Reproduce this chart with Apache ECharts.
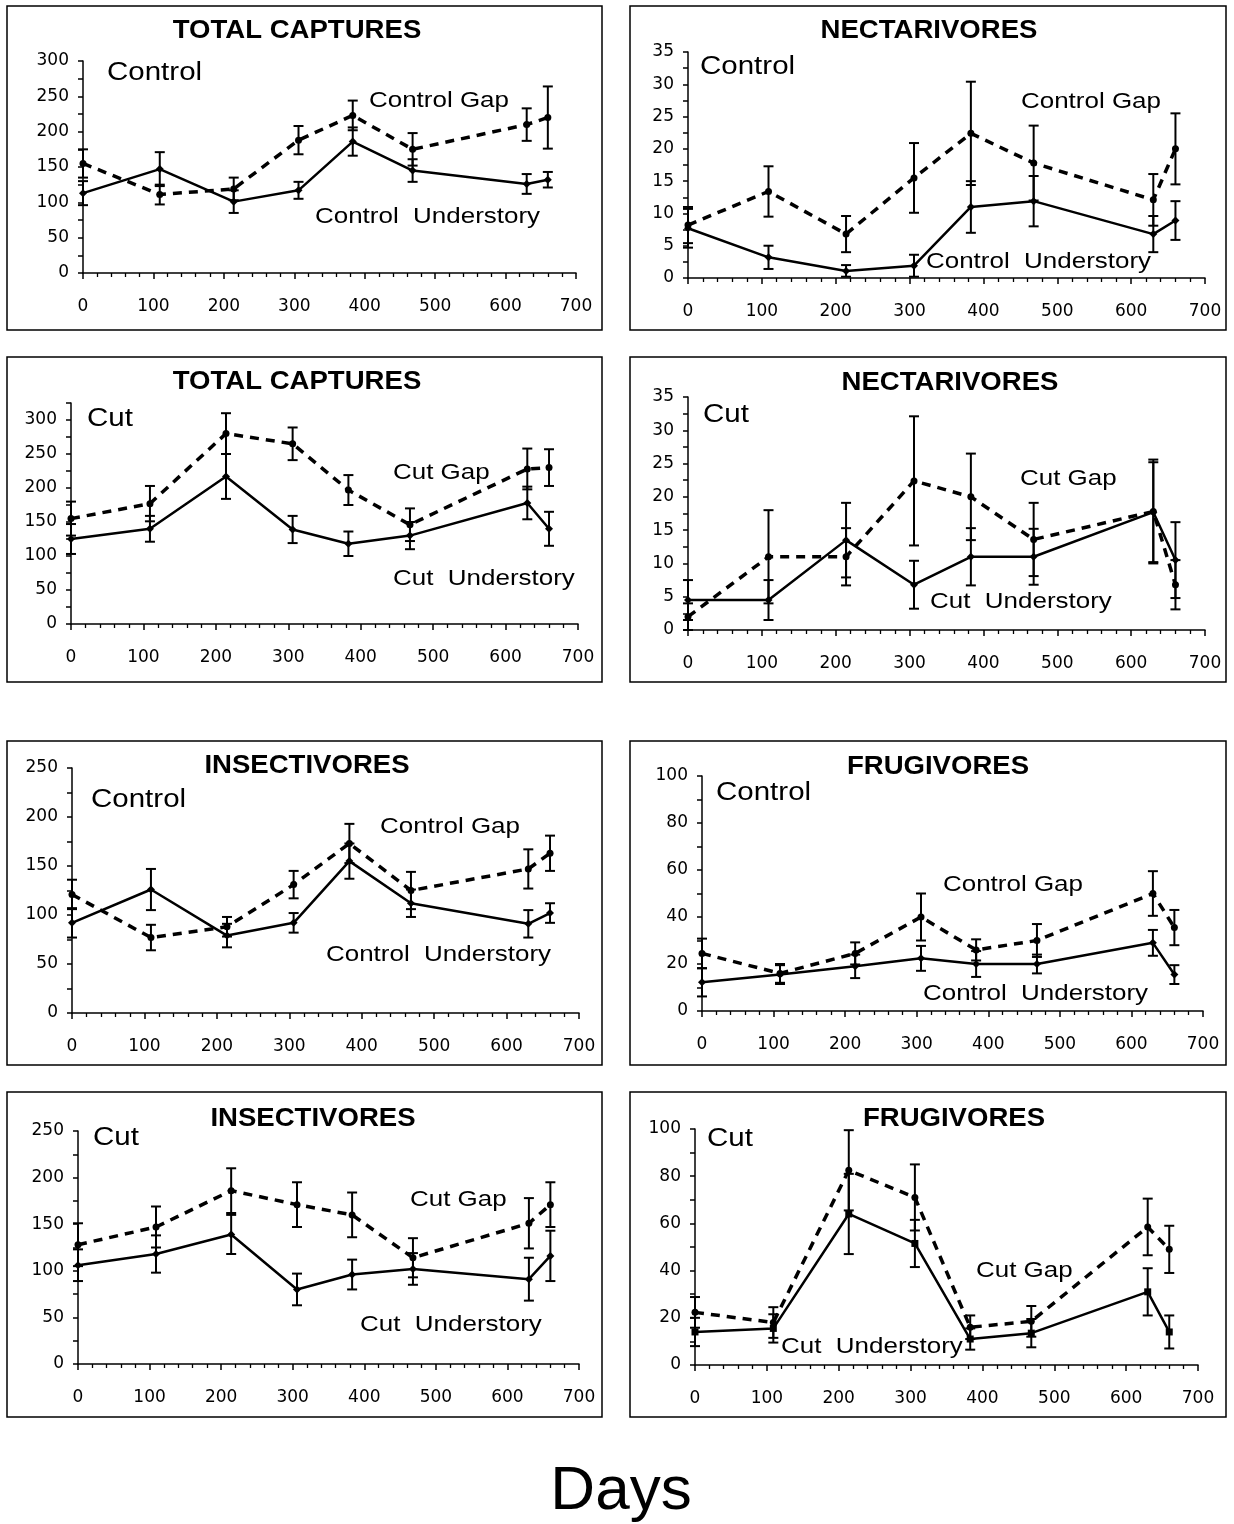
<!DOCTYPE html>
<html>
<head>
<meta charset="utf-8">
<script src="https://cdn.jsdelivr.net/npm/echarts@6/dist/echarts.min.js"></script>
<style>
html,body{margin:0;padding:0;background:#fff;}
#chart{width:1234px;height:1524px;}
</style>
</head>
<body>
<div id="chart"></div>
<script>
// ---- Data (days since start; means and standard errors) ----
const days = [0, 109, 214, 306, 383, 468, 630, 660];

const totalControlGap      = [155, 111, 119, 188, 223, 175, 210, 220];
const totalControlGapErr   = [20, 14, 16, 20, 21, 23, 23, 44];
const totalControlUnd      = [113, 147, 101, 117, 186, 145, 126, 132];
const totalControlUndErr   = [17, 24, 16, 12, 20, 16, 14, 11];

const nectControlGap       = [8.2, 13.4, 6.8, 15.5, 22.4, 17.8, 12.1, 20.0];
const nectControlGapErr    = [2.8, 3.9, 2.8, 5.4, 8.0, 5.8, 4.0, 5.5];
const nectControlUnd       = [7.7, 3.2, 1.1, 1.9, 11.0, 11.9, 6.8, 8.9];
const nectControlUndErr    = [3.0, 1.8, 0.9, 1.7, 4.0, 3.9, 2.8, 3.0];

const totalCutGap          = [155, 177, 280, 265, 197, 146, 228, 230];
const totalCutGapErr       = [25, 26, 30, 24, 22, 24, 30, 27];
const totalCutUnd          = [125, 140, 217, 139, 118, 130, 178, 140];
const totalCutUndErr       = [22, 19, 33, 20, 18, 20, 24, 25];

const nectCutGap           = [2.0, 11.0, 11.0, 22.4, 20.0, 13.6, 17.8, 6.8];
const nectCutGapErr        = [2.0, 7.0, 4.3, 9.7, 6.5, 5.5, 7.8, 3.7];
const nectCutUnd           = [4.5, 4.5, 13.5, 6.8, 11.0, 11.0, 17.7, 10.5];
const nectCutUndErr        = [3.0, 3.0, 5.6, 3.6, 4.3, 4.2, 7.5, 5.7];

const insectControlGap     = [121, 77, 88, 131, 173, 125, 147, 163];
const insectControlGapErr  = [15, 13, 10, 14, 20, 19, 20, 18];
const insectControlUnd     = [92, 126, 79, 92, 155, 112, 91, 102];
const insectControlUndErr  = [15, 21, 12, 10, 18, 14, 14, 10];

const frugControlGap       = [24.5, 16.0, 24.5, 40.0, 26.0, 30.0, 50.0, 35.5];
const frugControlGapErr    = [6.3, 4.0, 4.7, 10.0, 4.5, 7.0, 9.5, 7.5];
const frugControlUnd       = [12.2, 15.5, 19.0, 22.4, 20.0, 20.0, 29.0, 15.5];
const frugControlUndErr    = [6.0, 4.0, 5.0, 5.3, 5.5, 4.0, 5.5, 4.0];

const insectCutGap         = [128, 147, 186, 171, 160, 114, 151, 171];
const insectCutGapErr      = [23, 22, 24, 24, 24, 21, 27, 24];
const insectCutUnd         = [106, 118, 139, 80, 96, 102, 91, 116];
const insectCutUndErr      = [17, 20, 21, 17, 16, 17, 23, 27];

const frugCutGap           = [22.3, 18.0, 82.5, 71.0, 16.0, 18.5, 58.5, 49.0];
const frugCutGapErr        = [6.5, 6.5, 17.0, 14.0, 5.0, 6.5, 12.0, 10.0];
const frugCutUnd           = [14.0, 15.5, 64.0, 51.5, 11.0, 13.5, 31.0, 14.0];
const frugCutUndErr        = [6.0, 6.0, 17.0, 10.0, 4.5, 6.0, 10.0, 7.0];

const xTickLabels = [0, 100, 200, 300, 400, 500, 600, 700];

const panels = [
  {title:'TOTAL CAPTURES', site:'Control', gap:totalControlGap, gapErr:totalControlGapErr, und:totalControlUnd, undErr:totalControlUndErr, yMax:300, yMajor:50},
  {title:'NECTARIVORES',   site:'Control', gap:nectControlGap,  gapErr:nectControlGapErr,  und:nectControlUnd,  undErr:nectControlUndErr,  yMax:35,  yMajor:5},
  {title:'TOTAL CAPTURES', site:'Cut',     gap:totalCutGap,     gapErr:totalCutGapErr,     und:totalCutUnd,     undErr:totalCutUndErr,     yMax:325, yMajor:50},
  {title:'NECTARIVORES',   site:'Cut',     gap:nectCutGap,      gapErr:nectCutGapErr,      und:nectCutUnd,      undErr:nectCutUndErr,      yMax:35,  yMajor:5},
  {title:'INSECTIVORES',   site:'Control', gap:insectControlGap,gapErr:insectControlGapErr,und:insectControlUnd,undErr:insectControlUndErr,yMax:250, yMajor:50},
  {title:'FRUGIVORES',     site:'Control', gap:frugControlGap,  gapErr:frugControlGapErr,  und:frugControlUnd,  undErr:frugControlUndErr,  yMax:100, yMajor:20},
  {title:'INSECTIVORES',   site:'Cut',     gap:insectCutGap,    gapErr:insectCutGapErr,    und:insectCutUnd,    undErr:insectCutUndErr,    yMax:250, yMajor:50},
  {title:'FRUGIVORES',     site:'Cut',     gap:frugCutGap,      gapErr:frugCutGapErr,      und:frugCutUnd,      undErr:frugCutUndErr,      yMax:100, yMajor:20}
];

// ---- Layout (pixels) ----
const layout = [
  {box:[7,6,595,324],     grid:[83,61,493,212],   title:[297,31],  site:[107,73],  gapLbl:[369,101],  undLbl:[315,217]},
  {box:[630,6,596,324],   grid:[688,52,517,226],  title:[929,31],  site:[700,67],  gapLbl:[1021,102], undLbl:[926,262]},
  {box:[7,357,595,325],   grid:[71,403,507,221],  title:[297,382], site:[87,419],  gapLbl:[393,473],  undLbl:[393,579]},
  {box:[630,357,596,325], grid:[688,397,517,233], title:[950,383], site:[703,415], gapLbl:[1020,479], undLbl:[930,602]},
  {box:[7,741,595,324],   grid:[72,768,507,245],  title:[307,766], site:[91,800],  gapLbl:[380,827],  undLbl:[326,955]},
  {box:[630,741,596,324], grid:[702,776,501,235], title:[938,767], site:[716,793], gapLbl:[943,885],  undLbl:[923,994]},
  {box:[7,1092,595,325],  grid:[78,1131,501,233], title:[313,1119],site:[93,1138], gapLbl:[410,1200], undLbl:[360,1325]},
  {box:[630,1092,596,325],grid:[695,1129,503,236],title:[954,1119],site:[707,1139],gapLbl:[976,1271], undLbl:[781,1347]}
];

const FONT = 'Liberation Sans, Arial, sans-serif';
const AXFONT = 'DejaVu Sans, sans-serif';
const STRETCH = 1.18;

function errRender(params, api) {
  const x = api.value(0), lo = api.value(1), hi = api.value(2);
  const top = api.coord([x, hi]);
  const bot = api.coord([x, lo]);
  const w = 5;
  const st = {stroke:'#000', lineWidth:2};
  return {type:'group', children:[
    {type:'line', shape:{x1:top[0], y1:top[1], x2:bot[0], y2:bot[1]}, style:st},
    {type:'line', shape:{x1:top[0]-w, y1:top[1], x2:top[0]+w, y2:top[1]}, style:st},
    {type:'line', shape:{x1:bot[0]-w, y1:bot[1], x2:bot[0]+w, y2:bot[1]}, style:st}
  ]};
}

const grids = [], xAxes = [], yAxes = [], series = [], graphics = [];

panels.forEach((p, i) => {
  const L = layout[i];
  grids.push({left:L.grid[0], top:L.grid[1], width:L.grid[2], height:L.grid[3], containLabel:false});
  xAxes.push({
    type:'value', gridIndex:i, min:xTickLabels[0], max:xTickLabels[xTickLabels.length-1], interval:100,
    axisLine:{show:true, onZero:false, lineStyle:{color:'#000', width:1.5}},
    axisTick:{show:true, length:6, lineStyle:{color:'#000', width:1.5}},
    minorTick:{show:true, splitNumber:5, length:4, lineStyle:{color:'#000', width:1.3}},
    splitLine:{show:false}, minorSplitLine:{show:false},
    axisLabel:{color:'#000', fontSize:17, fontFamily:AXFONT, margin:25}
  });
  const half = p.yMajor/2;
  yAxes.push({
    type:'value', gridIndex:i, min:0, max:p.yMax, interval:half,
    axisLine:{show:true, onZero:false, lineStyle:{color:'#000', width:1.5}},
    axisTick:{show:true, length:5, lineStyle:{color:'#000', width:1.5}},
    splitLine:{show:false},
    axisLabel:{color:'#000', fontSize:17, fontFamily:AXFONT, margin:14,
      formatter: v => {
        const r = v / p.yMajor;
        return (Math.abs(r - Math.round(r)) < 1e-6 && v <= p.yMax - (p.yMax % p.yMajor)) ? String(v) : '';
      }}
  });
  series.push({
    type:'line', xAxisIndex:i, yAxisIndex:i, z:3,
    data: days.map((d,k)=>[d, p.gap[k]]),
    lineStyle:{color:'#000', width:3.5, type:[9,7]},
    symbol:'circle', symbolSize:7, itemStyle:{color:'#000'}
  });
  series.push({
    type:'line', xAxisIndex:i, yAxisIndex:i, z:3,
    data: days.map((d,k)=>[d, p.und[k]]),
    lineStyle:{color:'#000', width:2.5, type:'solid'},
    symbol: i === 7 ? 'rect' : 'diamond', symbolSize: i === 7 ? 7 : 8, itemStyle:{color:'#000'}
  });
  series.push({
    type:'custom', xAxisIndex:i, yAxisIndex:i, z:4, clip:false,
    renderItem: errRender, encode:{x:0, y:[1,2]},
    data: days.map((d,k)=>[d, p.gap[k]-p.gapErr[k], p.gap[k]+p.gapErr[k]])
  });
  series.push({
    type:'custom', xAxisIndex:i, yAxisIndex:i, z:4, clip:false,
    renderItem: errRender, encode:{x:0, y:[1,2]},
    data: days.map((d,k)=>[d, p.und[k]-p.undErr[k], p.und[k]+p.undErr[k]])
  });

  graphics.push({type:'rect', shape:{x:L.box[0], y:L.box[1], width:L.box[2], height:L.box[3]},
    style:{fill:'none', stroke:'#000', lineWidth:1.5}, z:0});
  graphics.push({type:'text', x:L.title[0], y:L.title[1], scaleX:1.06,
    style:{text:p.title, fontSize:26, fontWeight:'bold', fontFamily:FONT, fill:'#000',
      textAlign:'center', textVerticalAlign:'middle', align:'center', verticalAlign:'middle'}});
  graphics.push({type:'text', x:L.site[0], y:L.site[1], scaleX:STRETCH,
    style:{text:p.site, fontSize:25, fontFamily:FONT, fill:'#000',
      textAlign:'left', textVerticalAlign:'middle', align:'left', verticalAlign:'middle'}});
  graphics.push({type:'text', x:L.gapLbl[0], y:L.gapLbl[1], scaleX:STRETCH,
    style:{text:p.site + ' Gap', fontSize:22, fontFamily:FONT, fill:'#000',
      textAlign:'left', textVerticalAlign:'middle', align:'left', verticalAlign:'middle'}});
  graphics.push({type:'text', x:L.undLbl[0], y:L.undLbl[1], scaleX:STRETCH,
    style:{text:p.site + '  Understory', fontSize:22, fontFamily:FONT, fill:'#000',
      textAlign:'left', textVerticalAlign:'middle', align:'left', verticalAlign:'middle'}});
});

graphics.push({type:'text', x:621, y:1492,
  style:{text:'Days', fontSize:62, fontFamily:FONT, fill:'#000',
    textAlign:'center', textVerticalAlign:'middle', align:'center', verticalAlign:'middle'}});

const chart = echarts.init(document.getElementById('chart'));
chart.setOption({
  animation:false,
  backgroundColor:'#fff',
  grid:grids, xAxis:xAxes, yAxis:yAxes, series:series,
  graphic:{elements:graphics}
});
</script>
</body>
</html>
